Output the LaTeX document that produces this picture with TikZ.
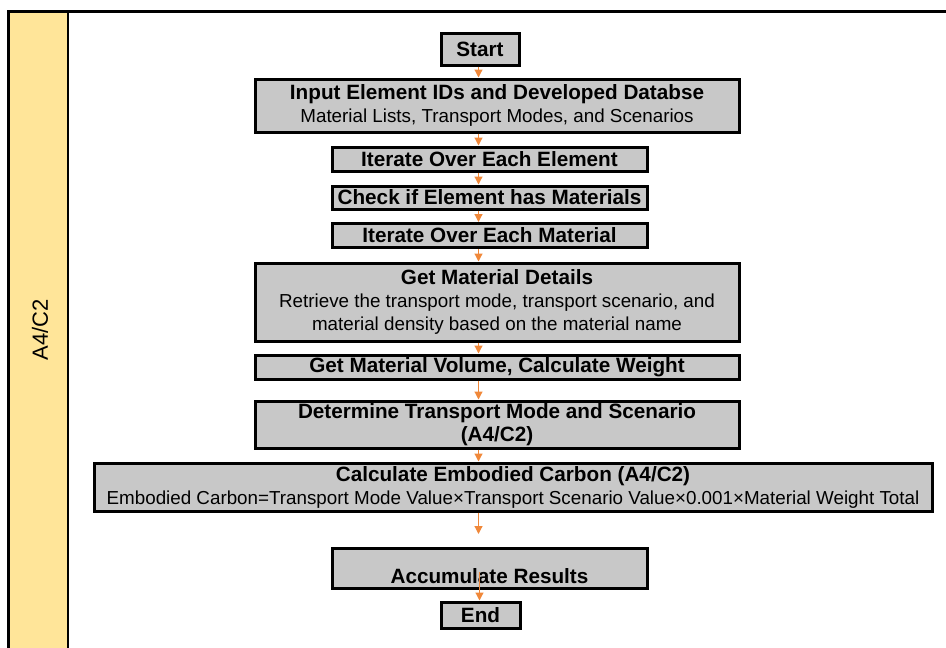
\documentclass[tikz,border=0pt]{standalone}
\usepackage{fontspec}
\setmainfont{Liberation Sans}
\usetikzlibrary{arrows.meta}
\definecolor{lanefill}{RGB}{255,229,153}
\definecolor{boxfill}{RGB}{200,200,200}
\definecolor{flow}{RGB}{240,136,58}
% second (plain) line inside a step box
\newcommand\detailline[1]{{\fontsize{18.8}{23}\selectfont\mdseries #1}}

\begin{document}
\begin{tikzpicture}[x=1pt,y=-1pt,
  stepbox/.style={draw=black, line width=3pt, fill=boxfill, inner sep=0pt,
    align=center, font=\fontsize{20.7}{23}\selectfont\bfseries},
  flowarrow/.style={draw=flow, line width=1.2pt,
    -{Triangle[length=8pt,width=8pt]}},
]
\useasboundingbox (0,0) rectangle (946,648);

% swimlane
\fill[lanefill] (8.5,11) rectangle (68,660);
\draw[line width=3pt] (8.5,660) -- (8.5,11) -- (960,11);
\draw[line width=2.8pt] (68,11) -- (68,660);
\node[rotate=90, font=\fontsize{22}{26}\selectfont] (lanelabel) at (40,330) {A4/C2};

% process steps
\node[stepbox, minimum width=78, minimum height=32] (start) at (480,49) {Start};
\node[stepbox, minimum width=484, minimum height=53] (input) at (497,105.5)
  {Input Element IDs and Developed Databse\\\detailline{Material Lists, Transport Modes, and Scenarios}};
\node[stepbox, minimum width=315, minimum height=24] (iterel) at (489.5,159) {Iterate Over Each Element};
\node[stepbox, minimum width=315, minimum height=23] (check) at (489.5,197.5) {Check if Element has Materials};
\node[stepbox, minimum width=315, minimum height=24] (itermat) at (489.5,235.5) {Iterate Over Each Material};
\node[stepbox, minimum width=484, minimum height=78] (details) at (497,302)
  {Get Material Details\\\detailline{Retrieve the transport mode, transport scenario, and}\\\detailline{material density based on the material name}};
\node[stepbox, minimum width=484, minimum height=24] (volume) at (497,367) {Get Material Volume, Calculate Weight};
\node[stepbox, minimum width=484, minimum height=47] (mode) at (497,424.5)
  {Determine Transport Mode and Scenario\\(A4/C2)};
\node[stepbox, minimum width=838, minimum height=48] (calc) at (513,487)
  {Calculate Embodied Carbon (A4/C2)\\\detailline{Embodied Carbon=Transport Mode Value×Transport Scenario Value×0.001×Material Weight Total}};
\node[stepbox, minimum width=315, minimum height=40,
  label={[font=\fontsize{20.7}{23}\selectfont\bfseries, yshift=-8pt]center:Accumulate Results}] (acc) at (489.5,568) {};
\node[stepbox, minimum width=79, minimum height=26] (end) at (480.5,615) {End};

% connectors
\coordinate (ax) at (478.5,0);
\draw[flowarrow] (start.south -| ax) -- (input.north -| ax);
\draw[flowarrow] (input.south -| ax) -- (iterel.north -| ax);
\draw[flowarrow] (iterel.south -| ax) -- (check.north -| ax);
\draw[flowarrow] (check.south -| ax) -- (itermat.north -| ax);
\draw[flowarrow] (itermat.south -| ax) -- (details.north -| ax);
\draw[flowarrow] (details.south -| ax) -- (volume.north -| ax);
\draw[flowarrow] (volume.south -| ax) -- (mode.north -| ax);
\draw[flowarrow] (mode.south -| ax) -- (calc.north -| ax);
\coordinate (gapend) at (478.5,534);
\draw[flowarrow] (calc.south -| ax) -- (gapend);
\coordinate (accin) at (479.5,572);
\draw[flowarrow] (accin) -- (end.north -| accin);
\end{tikzpicture}
\end{document}
